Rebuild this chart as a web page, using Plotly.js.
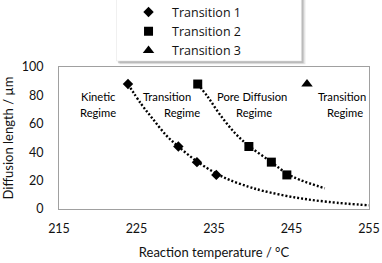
<!DOCTYPE html>
<html>
<head>
<meta charset="utf-8">
<script src="https://cdn.plot.ly/plotly-3.0.1.min.js"></script>
<style>html,body{margin:0;padding:0;background:#fff;}#chart{width:382px;height:263px;}</style>
</head>
<body>
<div id="chart"></div>
<script>
// Data
const t1Temp = [223.9, 230.4, 232.8, 235.3];
const t1Len  = [88, 44, 33, 24];
const t2Temp = [232.9, 239.5, 242.4, 244.4];
const t2Len  = [88, 44, 33, 24];
const t3Temp = [247.0];
const t3Len  = [88];
// Dotted trendlines
const trend1Temp = [223.9, 225.6, 227.1, 228.9, 230.4, 232.8, 235.3, 237.0, 239.4, 241.3, 245.6, 249.9, 255.0];
const trend1Len  = [88, 74, 63.5, 51.5, 44, 33.5, 25, 20.5, 15.8, 12.8, 8, 4.9, 2.6];
const trend2Temp = [232.9, 234.2, 235.7, 237.7, 239.5, 242.4, 244.4, 246.1, 249.3];
const trend2Len  = [88, 79, 67, 53.5, 44.5, 33, 25, 20.5, 14.6];
const seriesNames = ['Transition 1', 'Transition 2', 'Transition 3'];
const xTicks = [215, 225, 235, 245, 255];
const yTicks = [0, 20, 40, 60, 80, 100];

const FONT = 'Lato, "Open Sans", sans-serif';
const LEGFONT = '"Open Sans", Lato, sans-serif';
const dotLine = {color: '#000', width: 2.4, dash: '2px,2px'};

const traces = [
  {x: trend1Temp, y: trend1Len, mode: 'lines', line: Object.assign({shape: 'spline'}, dotLine), showlegend: false, hoverinfo: 'skip'},
  {x: trend2Temp, y: trend2Len, mode: 'lines', line: Object.assign({shape: 'spline'}, dotLine), showlegend: false, hoverinfo: 'skip'},
  {x: t1Temp, y: t1Len, name: seriesNames[0], mode: 'markers', marker: {symbol: 'diamond', size: 8, color: '#000'}},
  {x: t2Temp, y: t2Len, name: seriesNames[1], mode: 'markers', marker: {symbol: 'square', size: 9, color: '#000'}},
  {x: t3Temp, y: t3Len, name: seriesNames[2], mode: 'markers', marker: {symbol: 'triangle-up', size: 10, color: '#000'}}
];

function ann(text, x, y) {
  return {text: text, x: x, y: y, xref: 'x', yref: 'y', showarrow: false,
          font: {family: FONT, size: 11.2, color: '#000'}, xanchor: 'center', yanchor: 'middle'};
}

const layout = {
  width: 382, height: 263,
  margin: {l: 59, r: 13, t: 67, b: 54, pad: 0, autoexpand: false},
  paper_bgcolor: '#fff', plot_bgcolor: '#fff',
  font: {family: FONT, color: '#000'},
  xaxis: {
    range: [215, 255], tickvals: xTicks, ticktext: xTicks.map(String),
    showgrid: false, zeroline: false, showline: true, mirror: true,
    linecolor: '#a0a0a0', linewidth: 1, ticks: '', ticklabelstandoff: 8,
    tickfont: {family: FONT, size: 12.5, color: '#111'},
    title: {text: 'Reaction temperature / °C', font: {family: FONT, size: 13, color: '#111'}, standoff: 12}
  },
  yaxis: {
    range: [0, 100], tickvals: yTicks, ticktext: yTicks.map(String),
    showgrid: false, zeroline: false, showline: true, mirror: true,
    linecolor: '#a0a0a0', linewidth: 1, ticks: '', ticklabelstandoff: 12,
    tickfont: {family: FONT, size: 12.5, color: '#111'},
    title: {text: 'Diffusion length / µm', font: {family: FONT, size: 13, color: '#111'}, standoff: 6}
  },
  showlegend: true,
  legend: {
    x: 0.213, xanchor: 'left', y: 1.49, yanchor: 'top',
    bgcolor: 'rgba(0,0,0,0)', borderwidth: 0,
    font: {family: LEGFONT, size: 12.5, color: '#111'},
    itemwidth: 37
  },
  shapes: [
    {type: 'rect', xref: 'paper', yref: 'paper', x0: 0.195, x1: 0.795, y0: 1.02, y1: 1.5,
     fillcolor: 'rgba(0,0,0,0.10)', line: {width: 0}, layer: 'above'},
    {type: 'rect', xref: 'paper', yref: 'paper', x0: 0.19, x1: 0.789, y0: 1.027, y1: 1.5,
     fillcolor: 'rgba(0,0,0,0.18)', line: {width: 0}, layer: 'above'},
    {type: 'rect', xref: 'paper', yref: 'paper', x0: 0.1855, x1: 0.782, y0: 1.0424, y1: 1.5,
     fillcolor: '#fff', line: {width: 0.5, color: '#e0e0e0'}, layer: 'above'}
  ],
  annotations: [
    ann('Kinetic', 220.1, 79), ann('Regime', 220.0, 68),
    ann('Transition', 228.9, 79), ann('Regime', 230.9, 68),
    ann('Pore Diffusion', 239.9, 79), ann('Regime', 240.1, 68),
    ann('Transition', 251.5, 79), ann('Regime', 251.9, 68)
  ]
};

Plotly.newPlot('chart', traces, layout, {staticPlot: true, displayModeBar: false});
</script>
</body>
</html>
